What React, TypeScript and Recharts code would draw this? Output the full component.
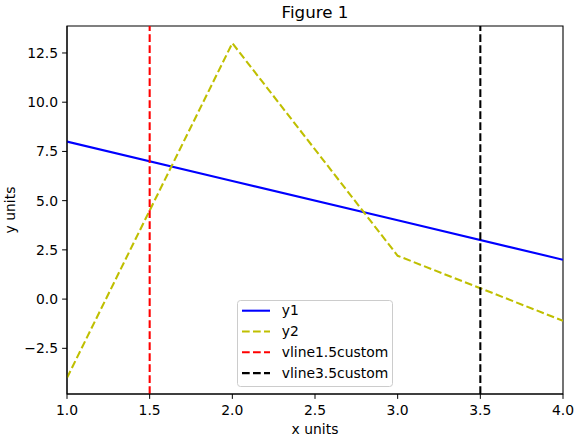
import React from "react";
import {
  LineChart,
  Line,
  XAxis,
  YAxis,
  Legend,
  Label,
  ReferenceLine,
  ReferenceArea,
} from "recharts";

// data
const xValues = [1, 2, 3, 4];
const y1Values = [8, 6, 4, 2];
const y2Values = [-4, 13, 2.2, -1.1];

const vlineAt = [1.5, 3.5];
const vlineColors = ["#ff0000", "#000000"];

const xTicks = [1, 1.5, 2, 2.5, 3, 3.5, 4];
const yTicks = [-2.5, 0, 2.5, 5, 7.5, 10, 12.5];
const xDomain = [1, 4];
const yDomain = [-4.82, 13.87];

const legendNames = ["y1", "y2", "vline1.5custom", "vline3.5custom"];
const legendColors = ["#0000ff", "#bfbf00", "#ff0000", "#000000"];
const legendDashed = [false, true, true, true];

const data = xValues.map((x, i) => ({ x, y1: y1Values[i], y2: y2Values[i] }));

const FONT = "'DejaVu Sans', sans-serif";
const FS = 13.9;
const DASH = "7.7 3.3";
const LW = 2.08;

const fmt = (v: number) => v.toFixed(1).replace("-", "\u2212");

function LegendBox() {
  const rowH = 20.8;
  return (
    <svg width={157} height={88} style={{ display: "block" }}>
      <rect
        x={0.5}
        y={0.5}
        width={155}
        height={86}
        rx={3}
        fill="#ffffff"
        fillOpacity={0.8}
        stroke="#cccccc"
        strokeWidth={1}
      />
      {legendNames.map((name, i) => {
        const cy = 10.7 + i * rowH;
        return (
          <g key={name}>
            <line
              x1={5}
              x2={33}
              y1={cy}
              y2={cy}
              stroke={legendColors[i]}
              strokeWidth={LW}
              strokeDasharray={legendDashed[i] ? DASH : undefined}
            />
            <text x={44.7} y={cy + 4.6} fontSize={FS} fontFamily={FONT} fill="#000">
              {name}
            </text>
          </g>
        );
      })}
    </svg>
  );
}

export default function App() {
  return (
    <div style={{ position: "absolute", left: 0, top: 0, width: 586, height: 445, background: "#fff" }}>
      <LineChart
        width={586}
        height={445}
        data={data}
        margin={{ top: 26, right: 23, left: 0, bottom: 0 }}
      >
        <text x={315} y={18.3} textAnchor="middle" fontSize={16.7} fontFamily={FONT} fill="#000">
          Figure 1
        </text>
        <text
          x={15}
          y={210}
          transform="rotate(-90 15 210)"
          textAnchor="middle"
          fontSize={FS}
          fontFamily={FONT}
          fill="#000"
        >
          y units
        </text>
        <XAxis
          dataKey="x"
          type="number"
          domain={xDomain}
          ticks={xTicks}
          tickFormatter={fmt}
          allowDataOverflow
          height={51}
          tickSize={4.9}
          tickMargin={5.8}
          stroke="#000"
          tick={{ fill: "#000", fontSize: FS, fontFamily: FONT }}
        >
          <Label
            value="x units"
            position="insideBottom"
            offset={11}
            fill="#000"
            fontSize={FS}
            fontFamily={FONT}
          />
        </XAxis>
        <YAxis
          type="number"
          domain={yDomain}
          ticks={yTicks}
          tickFormatter={fmt}
          allowDataOverflow
          width={67}
          tickSize={4.9}
          tickMargin={4}
          stroke="#000"
          tick={{ fill: "#000", fontSize: FS, fontFamily: FONT }}
        />
        <ReferenceArea
          x1={xDomain[0]}
          x2={xDomain[1]}
          y1={yDomain[0]}
          y2={yDomain[1]}
          fill="none"
          stroke="#000"
          strokeWidth={1.1}
        />
        <Line
          type="linear"
          dataKey="y1"
          stroke={legendColors[0]}
          strokeWidth={LW}
          dot={false}
          activeDot={false}
          isAnimationActive={false}
        />
        <Line
          type="linear"
          dataKey="y2"
          stroke={legendColors[1]}
          strokeWidth={LW}
          strokeDasharray={DASH}
          dot={false}
          activeDot={false}
          isAnimationActive={false}
        />
        {vlineAt.map((v, i) => (
          <ReferenceLine
            key={v}
            x={v}
            stroke={vlineColors[i]}
            strokeWidth={LW}
            strokeDasharray={DASH}
          />
        ))}
        <Legend
          layout="vertical"
          align="center"
          verticalAlign="middle"
          wrapperStyle={{ left: 237, top: 300, width: 157, height: 88 }}
          content={() => <LegendBox />}
        />
      </LineChart>
    </div>
  );
}
